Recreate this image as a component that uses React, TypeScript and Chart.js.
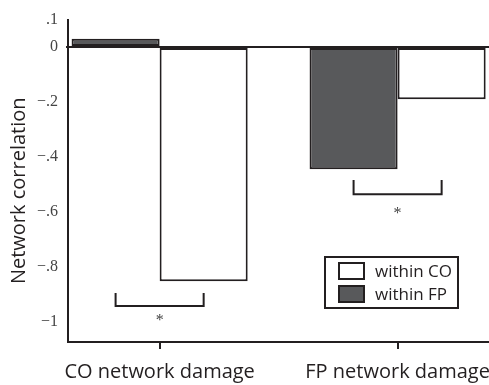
import React, { useEffect, useRef } from "react";
import { Chart, registerables } from "chart.js";

Chart.register(...registerables);

const categories = ["CO network damage", "FP network damage"];
const seriesNames = ["within FP", "within CO"];
const withinFP = [0.03, -0.445];
const withinCO = [-0.852, -0.19];
const yTickValues = [0.1, 0, -0.2, -0.4, -0.6, -0.8, -1];
const yTickLabels = [".1", "0", "\u2212.2", "\u2212.4", "\u2212.6", "\u2212.8", "\u22121"];
// significance brackets per category: top value, bottom value, star value
const bracketTop = [-0.895, -0.484];
const bracketBottom = [-0.942, -0.536];
const starValue = [-0.985, -0.596];

const INK = "#231f20";
const DARK = "#58595b";
const SANS = "'Open Sans', sans-serif";
const SERIF = "'Liberation Serif', serif";

const annotations = {
  id: "annotations",
  afterDatasetsDraw(chart: any) {
    const ctx = chart.ctx;
    const y = chart.scales.y;
    const m0 = chart.getDatasetMeta(0);
    const m1 = chart.getDatasetMeta(1);
    ctx.save();
    for (let i = 0; i < categories.length; i++) {
      const x0 = m0.data[i].x;
      const x1 = m1.data[i].x;
      const yt = y.getPixelForValue(bracketTop[i]);
      const yb = y.getPixelForValue(bracketBottom[i]);
      ctx.strokeStyle = INK;
      ctx.lineWidth = 2;
      ctx.beginPath();
      ctx.moveTo(x0, yt);
      ctx.lineTo(x0, yb);
      ctx.lineTo(x1, yb);
      ctx.lineTo(x1, yt);
      ctx.stroke();
      ctx.fillStyle = "#444";
      ctx.font = `16px ${SERIF}`;
      ctx.textAlign = "center";
      ctx.textBaseline = "middle";
      ctx.fillText("*", (x0 + x1) / 2, y.getPixelForValue(starValue[i]) + 3);
    }
    const area = chart.chartArea;
    const bx = area.right - 164;
    const by = area.bottom - 85;
    const bw = 133;
    const bh = 51;
    ctx.lineWidth = 2;
    ctx.strokeStyle = INK;
    ctx.fillStyle = "#fff";
    ctx.fillRect(bx, by, bw, bh);
    ctx.strokeRect(bx, by, bw, bh);
    const entries = [
      { label: seriesNames[1], fill: "#ffffff" },
      { label: seriesNames[0], fill: DARK },
    ];
    entries.forEach((e, k) => {
      const sy = by + 6 + k * 23;
      ctx.fillStyle = e.fill;
      ctx.fillRect(bx + 14, sy, 25, 16);
      ctx.strokeRect(bx + 14, sy, 25, 16);
      ctx.fillStyle = INK;
      ctx.font = `17px ${SANS}`;
      ctx.textAlign = "left";
      ctx.textBaseline = "middle";
      ctx.fillText(e.label, bx + 50, sy + 9);
    });
    ctx.restore();
  },
};

export default function App() {
  const ref = useRef<HTMLCanvasElement>(null);
  useEffect(() => {
    if (!ref.current) return;
    const chart = new Chart(ref.current, {
      type: "bar",
      data: {
        datasets: [
          {
            label: seriesNames[0],
            data: withinFP.map((v, i) => ({ x: i, y: v })),
            backgroundColor: DARK,
            borderColor: INK,
            borderWidth: 2,
            borderSkipped: false,
          },
          {
            label: seriesNames[1],
            data: withinCO.map((v, i) => ({ x: i, y: v })),
            backgroundColor: "#ffffff",
            borderColor: INK,
            borderWidth: 2,
            borderSkipped: false,
          },
        ],
      },
      options: {
        animation: false,
        responsive: true,
        maintainAspectRatio: false,
        layout: { padding: { top: 19.5, right: 0, left: 0, bottom: 0 } },
        plugins: { legend: { display: false }, tooltip: { enabled: false } },
        datasets: { bar: { categoryPercentage: 0.74, barPercentage: 1 } },
        scales: {
          x: {
            type: "linear",
            offset: false,
            min: -0.385,
            max: 1.384,
            afterBuildTicks: (s: any) => {
              s.ticks = categories.map((_, i) => ({ value: i }));
            },
            afterFit: (s: any) => {
              s.height = 43;
              s.paddingLeft = 0;
              s.paddingRight = 0;
            },
            ticks: {
              callback: (v: any) => categories[v as number] ?? "",
              font: { family: SANS, size: 20 },
              color: INK,
              padding: 11,
              maxRotation: 0,
              autoSkip: false,
            },
            grid: {
              offset: false,
              drawOnChartArea: false,
              drawTicks: true,
              tickLength: 7,
              color: INK,
              lineWidth: 2,
            },
            border: { display: true, color: INK, width: 2 },
          },
          y: {
            min: -1.073,
            max: 0.1,
            afterBuildTicks: (s: any) => {
              s.ticks = yTickValues.map((v) => ({ value: v }));
            },
            afterFit: (s: any) => {
              s.width = 68;
              s.paddingTop = 0;
              s.paddingBottom = 0;
            },
            ticks: {
              callback: (v: any) => yTickLabels[yTickValues.indexOf(v)] ?? "",
              font: { family: SERIF, size: 16 },
              color: "#444",
              padding: 8,
            },
            grid: {
              drawTicks: true,
              tickLength: 2,
              color: (c: any) => (c.tick && c.tick.value === 0 ? INK : "rgba(0,0,0,0)"),
              lineWidth: 2,
            },
            border: { display: true, color: INK, width: 2 },
            title: {
              display: true,
              text: "Network correlation\u2002\u2002",
              font: { family: SANS, size: 20 },
              color: INK,
              padding: { top: 7, bottom: 0 },
            },
          },
        },
      },
      plugins: [annotations],
    });
    return () => chart.destroy();
  }, []);
  return (
    <div style={{ position: "fixed", left: 0, top: 0, width: 489, height: 385 }}>
      <canvas ref={ref} />
    </div>
  );
}
